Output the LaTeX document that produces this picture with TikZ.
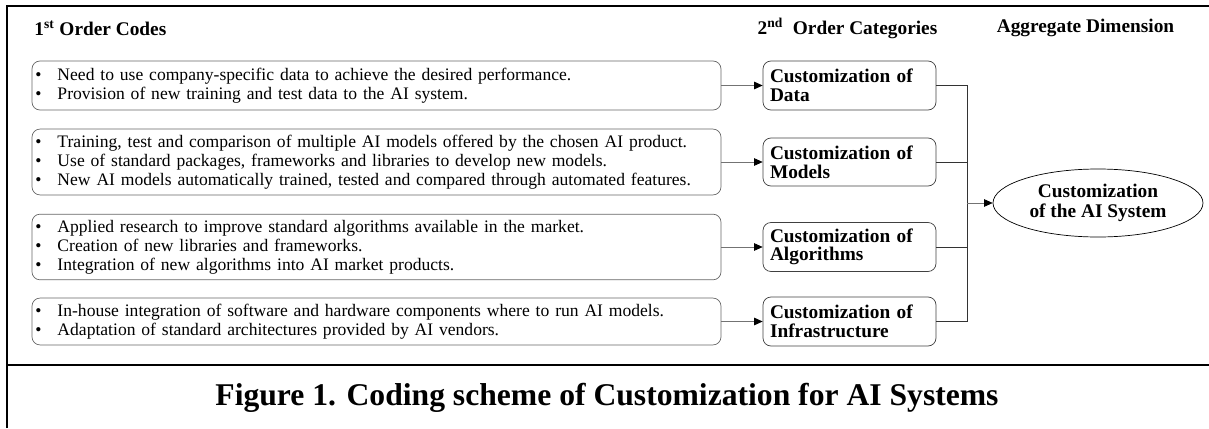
\documentclass[tikz,border=0pt]{standalone}
\usepackage{fontspec}
\setmainfont{Liberation Serif}
\usetikzlibrary{arrows.meta,shapes.geometric}

\newcommand{\bitem}{\makebox[0.44cm][l]{\textbullet}}

\begin{document}
\begin{tikzpicture}[
    codebox/.style={draw=black!60,rounded corners=0.16cm,minimum width=13.78cm,text width=13.64cm,inner xsep=0.07cm,align=left,font=\fontsize{10}{10.8}\selectfont},
    catbox/.style={draw=black!75,rounded corners=0.16cm,minimum width=3.46cm,minimum height=0.98cm,text width=3.18cm,inner xsep=0.14cm,align=left,font=\bfseries\fontsize{11}{10.6}\selectfont},
    header/.style={font=\bfseries\fontsize{11}{12}\selectfont},
    arr/.style={draw=black!55,-{Triangle[black,length=0.17cm,width=0.15cm]}},
    joint/.style={draw=black!80},
    frame/.style={line width=1.1pt}]
    \useasboundingbox (0,0) rectangle (24.18,8.56);
    \draw[frame] (0.14,0) -- (0.14,8.44) -- (24.18,8.44);
    \draw[frame] (0.14,1.26) -- (24.18,1.26);

    \node[header,anchor=west,inner xsep=0pt] (h1) at (0.68,8.0) {1\textsuperscript{st} Order Codes};
    \node[header] (h2) at (16.95,8.0) {2\textsuperscript{nd}\ \ Order Categories};
    \node[header] (h3) at (21.71,8.0) {Aggregate Dimension};

    \node[codebox,minimum height=0.98cm] (code1) at (7.53,6.85) {\bitem Need to use company-specific data to achieve the desired performance.\\
        \bitem Provision of new training and test data to the AI system.};
    \node[codebox,minimum height=1.26cm] (code2) at (7.53,5.32) {\bitem Training, test and comparison of multiple AI models offered by the chosen AI product.\\
        \bitem Use of standard packages, frameworks and libraries to develop new models.\\
        \bitem New AI models automatically trained, tested and compared through automated features.};
    \node[codebox,minimum height=1.26cm] (code3) at (7.53,3.62) {\bitem Applied research to improve standard algorithms available in the market.\\
        \bitem Creation of new libraries and frameworks.\\
        \bitem Integration of new algorithms into AI market products.};
    \node[codebox,minimum height=0.88cm] (code4) at (7.53,2.13) {\bitem In-house integration of software and hardware components where to run AI models.\\
        \bitem Adaptation of standard architectures provided by AI vendors.};

    \node[catbox] (cat1) at (16.99,6.85) {Customization of\\Data};
    \node[catbox,minimum height=0.96cm] (cat2) at (16.99,5.32) {Customization of\\Models};
    \node[catbox] (cat3) at (16.99,3.62) {Customization of\\Algorithms};
    \node[catbox] (cat4) at (16.99,2.13) {Customization of\\Infrastructure};

    \node[draw,ellipse,minimum width=4.2cm,minimum height=1.36cm,inner sep=0pt,align=center,font=\bfseries\fontsize{11}{11.2}\selectfont] (agg) at (21.96,4.5) {Customization\\of the AI System};

    \draw[arr] (code1) -- (cat1);
    \draw[arr] (code2) -- (cat2);
    \draw[arr] (code3) -- (cat3);
    \draw[arr] (code4) -- (cat4);

    \coordinate (jtop) at (19.34,6.85);
    \coordinate (jbot) at (19.34,2.13);
    \draw[joint] (cat1.east) -- (jtop) -- (jbot) -- (cat4.east);
    \draw[joint] (cat2.east) -- (cat2.east -| jtop);
    \draw[joint] (cat3.east) -- (cat3.east -| jtop);
    \draw[arr] (jtop |- agg.west) -- (agg.west);

    \node[font=\bfseries\fontsize{18}{20}\selectfont] (caption) at (12.14,0.6) {Figure 1. Coding scheme of Customization for AI Systems};
\end{tikzpicture}
\end{document}
